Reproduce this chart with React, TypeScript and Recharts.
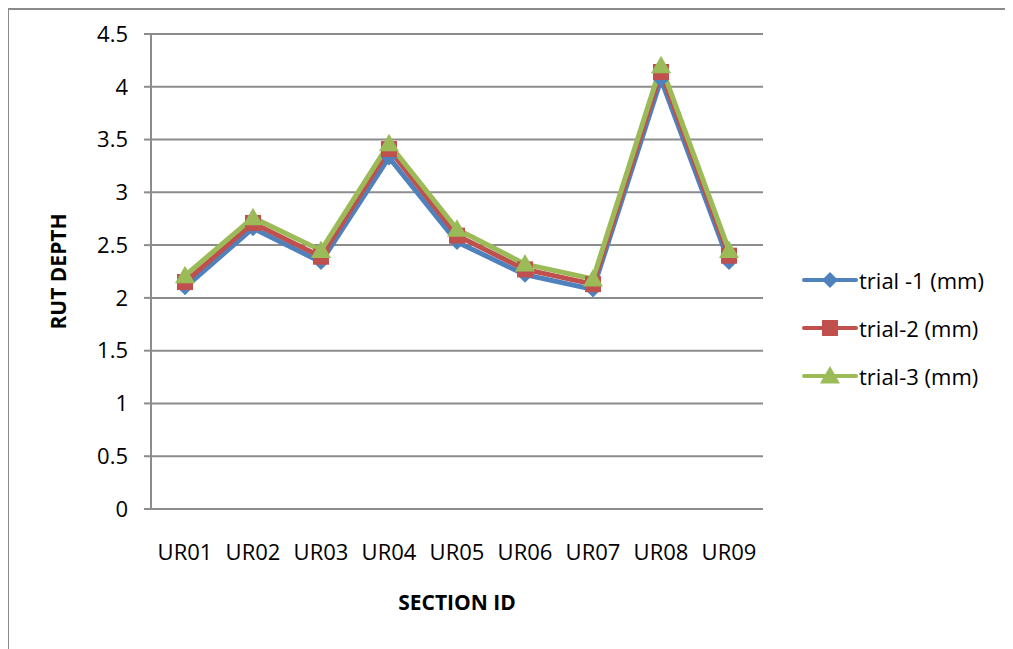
import React from 'react'
import { LineChart, Line, CartesianGrid, XAxis, YAxis } from 'recharts'

const sections = ['UR01', 'UR02', 'UR03', 'UR04', 'UR05', 'UR06', 'UR07', 'UR08', 'UR09']
const trial1 = [2.1, 2.66, 2.34, 3.33, 2.53, 2.22, 2.08, 4.07, 2.34]
const trial2 = [2.15, 2.71, 2.39, 3.41, 2.59, 2.27, 2.13, 4.14, 2.4]
const trial3 = [2.21, 2.76, 2.45, 3.46, 2.65, 2.32, 2.18, 4.2, 2.45]
const yTicks = [0, 0.5, 1, 1.5, 2, 2.5, 3, 3.5, 4, 4.5]

const seriesInfo = [
  { key: 'trial1', name: 'trial -1 (mm)', color: '#4F81BD', shape: 'diamond' },
  { key: 'trial2', name: 'trial-2 (mm)', color: '#C0504D', shape: 'square' },
  { key: 'trial3', name: 'trial-3 (mm)', color: '#9BBB59', shape: 'triangle' },
]

const chartData = sections.map((s, i) => ({
  section: s,
  trial1: trial1[i],
  trial2: trial2[i],
  trial3: trial3[i],
}))

const FONT = '"Open Sans", "Noto Sans", sans-serif'
const GRID = '#8C8C8C'

function Marker({ shape, color, cx, cy }: { shape: string; color: string; cx: number; cy: number }) {
  if (cx == null || cy == null) return null
  if (shape === 'diamond') {
    const r = 8
    return <polygon points={`${cx},${cy - r} ${cx + r},${cy} ${cx},${cy + r} ${cx - r},${cy}`} fill={color} />
  }
  if (shape === 'square') {
    const h = 8
    return <rect x={cx - h} y={cy - h} width={h * 2} height={h * 2} fill={color} />
  }
  const s = 10
  return <polygon points={`${cx},${cy - s} ${cx + s},${cy + s * 0.75} ${cx - s},${cy + s * 0.75}`} fill={color} />
}

// Excel-style legend: short line with the series marker in the middle
function LegendBox() {
  return (
    <div style={{ position: 'absolute', left: 793, top: 246, fontFamily: FONT, fontSize: 22, color: '#000' }}>
      {seriesInfo.map((s) => (
        <div key={s.key} style={{ display: 'flex', alignItems: 'center', height: 48 }}>
          <svg width={56} height={24}>
            <line x1={2} y1={12} x2={54} y2={12} stroke={s.color} strokeWidth={4} strokeLinecap="round" />
            <Marker shape={s.shape} color={s.color} cx={28} cy={12} />
          </svg>
          <span style={{ marginLeft: 1 }}>{s.name}</span>
        </div>
      ))}
    </div>
  )
}

export default function App() {
  return (
    <div
      style={{
        position: 'relative',
        width: 1005,
        height: 641,
        marginLeft: -1,
        borderLeft: '2px solid #8a8a8a',
        borderTop: '2px solid #8a8a8a',
        background: '#fff',
      }}
    >
      <LineChart
        width={1003}
        height={639}
        data={chartData}
        margin={{ top: 24, right: 249, left: 0, bottom: 0 }}
        style={{ fontFamily: FONT }}
      >
        <CartesianGrid vertical={false} stroke={GRID} strokeWidth={2} />
        <XAxis
          dataKey="section"
          interval={0}
          padding={{ left: 34, right: 34 }}
          axisLine={{ stroke: GRID, strokeWidth: 2 }}
          tickLine={false}
          tickSize={0}
          tickMargin={35}
          height={140}
          tick={{ fill: '#000', fontSize: 22 }}
          label={{ value: 'SECTION ID', position: 'insideTop', offset: 86, fill: '#000', fontSize: 21, fontWeight: 'bold' }}
        />
        <YAxis
          domain={[0, 4.5]}
          ticks={yTicks}
          interval={0}
          width={142}
          axisLine={{ stroke: GRID, strokeWidth: 2 }}
          tickLine={{ stroke: GRID, strokeWidth: 2 }}
          tickSize={7}
          tickMargin={16}
          tick={{ fill: '#000', fontSize: 22 }}
          label={{
            content: ({ viewBox }: any) => {
              const x = viewBox.x + 49
              const y = viewBox.y + viewBox.height / 2
              return (
                <text
                  x={x}
                  y={y}
                  transform={`rotate(-90 ${x} ${y})`}
                  textAnchor="middle"
                  dominantBaseline="central"
                  fontSize={21}
                  fontWeight="bold"
                  fill="#000"
                >
                  RUT DEPTH
                </text>
              )
            },
          }}
        />
        {seriesInfo.map((s) => (
          <Line
            key={s.key}
            type="linear"
            dataKey={s.key}
            name={s.name}
            stroke={s.color}
            strokeWidth={5}
            isAnimationActive={false}
            dot={(p: any) => <Marker key={`${s.key}-${p.index}`} shape={s.shape} color={s.color} cx={p.cx} cy={p.cy} />}
            activeDot={false}
          />
        ))}
      </LineChart>
      <LegendBox />
    </div>
  )
}
